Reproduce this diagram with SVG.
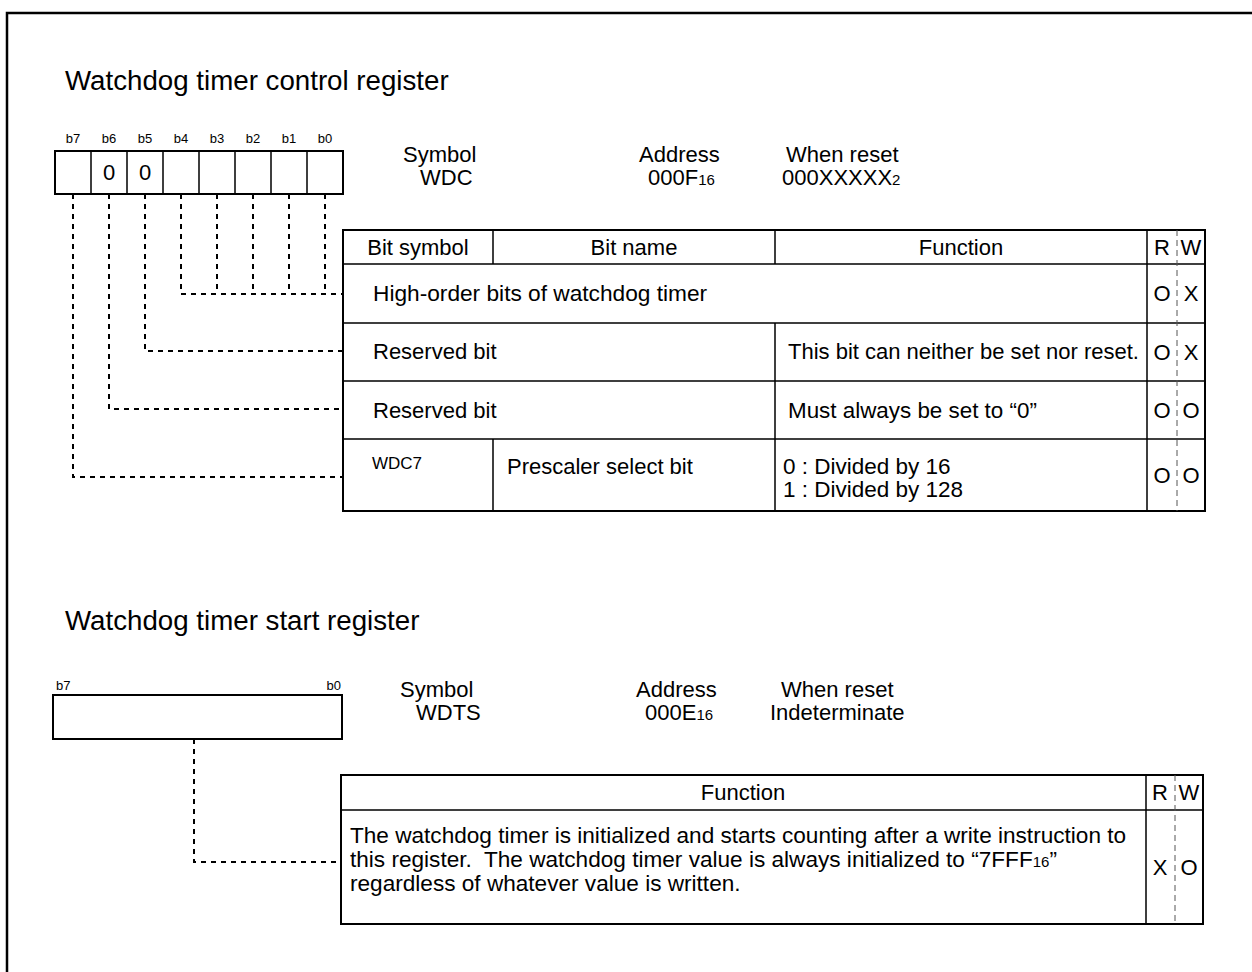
<svg xmlns="http://www.w3.org/2000/svg" width="1252" height="972" viewBox="0 0 1252 972">
<style>
text{font-family:"Liberation Sans",Arial,sans-serif;fill:#000}
.t{font-size:27.7px}
.m{font-size:22px}
.f{font-size:22.6px}
.s{font-size:13px}
.w{font-size:17px}
.sub{font-size:15px}
.c{text-anchor:middle}
.e{text-anchor:end}
.box{fill:#fff;stroke:#000;stroke-width:2}
.ln{stroke:#000;stroke-width:1.5;fill:none}
.rw{stroke:#555;stroke-width:1;stroke-dasharray:6 4;fill:none}
.dash{stroke:#000;stroke-width:2;stroke-dasharray:5 5;fill:none}
</style>
<rect width="1252" height="972" fill="#fff"/>
<path d="M7 972V13H1252" fill="none" stroke="#000" stroke-width="2.5"/>

<g id="title1"><text class="t" x="65" y="90">Watchdog timer control register</text></g>

<g id="wdc-bits">
<rect class="box" x="55" y="151" width="288" height="43"/>
<path class="ln" d="M91 151V194M127 151V194M163 151V194M199 151V194M235 151V194M271 151V194M307 151V194"/>
<g class="s c">
<text x="73" y="143">b7</text><text x="109" y="143">b6</text><text x="145" y="143">b5</text><text x="181" y="143">b4</text>
<text x="217" y="143">b3</text><text x="253" y="143">b2</text><text x="289" y="143">b1</text><text x="325" y="143">b0</text>
</g>
<text class="m c" x="109" y="180">0</text>
<text class="m c" x="145" y="180">0</text>
</g>

<g id="wdc-info" class="m">
<text x="403" y="162">Symbol</text>
<text x="420" y="185">WDC</text>
<text x="639" y="162">Address</text>
<text x="648" y="185">000F<tspan class="sub">16</tspan></text>
<text x="786" y="162">When reset</text>
<text x="782" y="185">000XXXXX<tspan class="sub">2</tspan></text>
</g>

<g id="wdc-table">
<rect class="box" x="343" y="230" width="862" height="281"/>
<path class="ln" d="M343 264H1205M343 323H1205M343 381H1205M343 439H1205M1147 230V511M493 230V264M775 230V264M775 323V511M493 439V511"/>
<path class="rw" d="M1177 230V511"/>
<g class="m">
<text class="c" x="418" y="255">Bit symbol</text>
<text class="c" x="634" y="255">Bit name</text>
<text class="c" x="961" y="255">Function</text>
<text class="c" x="1162" y="255">R</text>
<text class="c" x="1191" y="255">W</text>
<text x="373" y="301" font-size="22.7">High-order bits of watchdog timer</text>
<text x="373" y="359">Reserved bit</text>
<text x="788" y="359">This bit can neither be set nor reset.</text>
<text x="373" y="418">Reserved bit</text>
<text x="788" y="418" font-size="22.4">Must always be set to “0”</text>
<text x="507" y="474">Prescaler select bit</text>
<text x="783" y="474" font-size="22.5">0 : Divided by 16</text>
<text x="783" y="497" font-size="22.5">1 : Divided by 128</text>
<text class="c" x="1162" y="301">O</text><text class="c" x="1191" y="301">X</text>
<text class="c" x="1162" y="360">O</text><text class="c" x="1191" y="360">X</text>
<text class="c" x="1162" y="418">O</text><text class="c" x="1191" y="418">O</text>
<text class="c" x="1162" y="483">O</text><text class="c" x="1191" y="483">O</text>
</g>
<text class="w" x="372" y="469">WDC7</text>
</g>

<g id="title2"><text class="t" x="65" y="630">Watchdog timer start register</text></g>

<g id="wdts-bits">
<rect class="box" x="53" y="695" width="289" height="44"/>
<text class="s" x="56" y="690">b7</text>
<text class="s e" x="341" y="690">b0</text>
</g>

<g id="wdts-info" class="m">
<text x="400" y="697">Symbol</text>
<text x="416" y="720">WDTS</text>
<text x="636" y="697">Address</text>
<text x="645" y="720">000E<tspan class="sub">16</tspan></text>
<text x="781" y="697">When reset</text>
<text x="770" y="720">Indeterminate</text>
</g>

<g id="wdts-table">
<rect class="box" x="341" y="775" width="862" height="149"/>
<path class="ln" d="M341 810H1203M1146 775V924"/>
<path class="rw" d="M1175 775V924"/>
<g class="m">
<text class="c" x="743" y="800">Function</text>
<text class="c" x="1160" y="800">R</text>
<text class="c" x="1189" y="800">W</text>
<text class="f" x="350" y="843">The watchdog timer is initialized and starts counting after a write instruction to</text>
<text class="f" x="350" y="867" xml:space="preserve">this register.  The watchdog timer value is always initialized to “7FFF<tspan class="sub">16</tspan>”</text>
<text class="f" x="350" y="891">regardless of whatever value is written.</text>
<text class="c" x="1160" y="875">X</text>
<text class="c" x="1189" y="875">O</text>
</g>
</g>

<g id="connectors">
<path class="dash" d="M325 194V294M289 194V294M253 194V294M217 194V294M181 194V294M181 294H343"/>
<path class="dash" d="M145 194V351H343"/>
<path class="dash" d="M109 194V409H343"/>
<path class="dash" d="M73 194V477H343"/>
<path class="dash" d="M194 739V862H341"/>
</g>
</svg>
